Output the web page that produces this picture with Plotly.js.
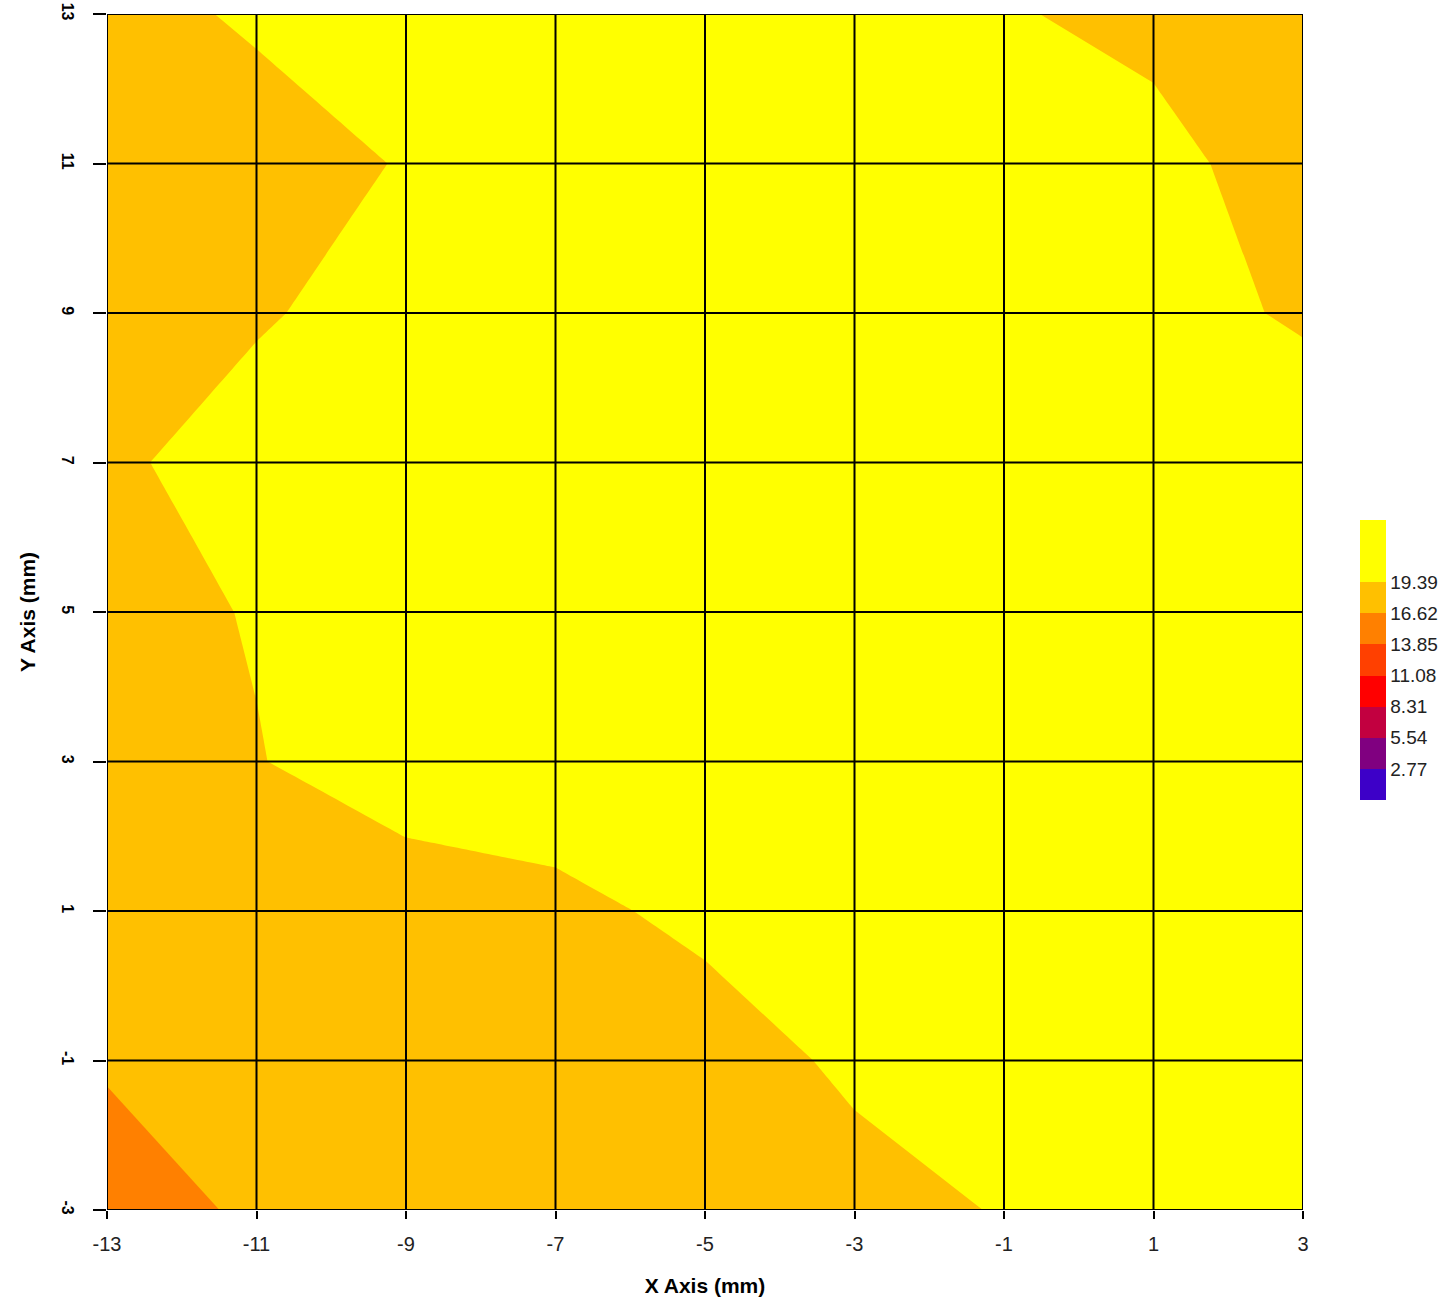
<!DOCTYPE html>
<html>
<head>
<meta charset="utf-8">
<script src="https://cdn.plot.ly/plotly-3.0.1.min.js"></script>
<style>
  html, body { margin: 0; padding: 0; background: #fff; }
  #chart { width: 1441px; height: 1306px; }
</style>
</head>
<body>
<div id="chart"></div>
<script>
// ---- data ----
var xValues = [-13, -11, -9, -7, -5, -3, -1, 1, 3];
var yValues = [-3, -1, 1, 3, 5, 7, 9, 11, 13];

// one row per y value (bottom to top), one column per x value
var zRowYm3 = [15.80, 16.89, 17.30, 17.50, 17.90, 18.54, 19.53, 20.40, 20.90];
var zRowYm1 = [16.79, 17.40, 17.60, 17.90, 18.29, 19.81, 20.60, 21.00, 21.20];
var zRowY1  = [17.60, 17.80, 18.32, 18.80, 19.93, 20.70, 21.10, 21.30, 21.40];
var zRowY3  = [18.00, 19.30, 20.50, 20.83, 21.20, 21.40, 21.50, 21.60, 21.50];
var zRowY5  = [18.65, 19.52, 20.90, 21.30, 21.50, 21.60, 21.70, 21.60, 21.40];
var zRowY7  = [18.54, 21.48, 21.30, 21.50, 21.70, 21.80, 21.70, 21.50, 21.36];
var zRowY9  = [17.60, 18.90, 21.35, 21.40, 21.60, 21.70, 21.50, 20.53, 19.00];
var zRowY11 = [17.50, 17.40, 19.67, 20.90, 21.30, 21.20, 20.80, 20.43, 17.69];
var zRowY13 = [17.82, 20.00, 20.60, 21.00, 21.10, 20.90, 19.67, 18.50, 17.80];

var levelStep = 2.77;
var levelTop = 19.39;
var colorbarMax = 24.93;
var levelTicks = [2.77, 5.54, 8.31, 11.08, 13.85, 16.62, 19.39];
var levelTickText = ['2.77', '5.54', '8.31', '11.08', '13.85', '16.62', '19.39'];
var bandColors = ['#3D00C8', '#800080', '#C20040', '#FF0000', '#FF4000', '#FF8000', '#FFC000', '#FFFF00'];

var xTickVals = [-13, -11, -9, -7, -5, -3, -1, 1, 3];
var yTickVals = [-3, -1, 1, 3, 5, 7, 9, 11, 13];

// ---- build ----
var zMatrix = [zRowYm3, zRowYm1, zRowY1, zRowY3, zRowY5, zRowY7, zRowY9, zRowY11, zRowY13];
var nBands = bandColors.length - 1;
var colorscale = [[0, bandColors[0]]];
for (var k = 0; k < nBands; k++) colorscale.push([(k + 0.5) / nBands, bandColors[k]]);
colorscale.push([1, bandColors[nBands]]);

var sans = '"Liberation Sans", Arial, sans-serif';

var trace = {
  type: 'contour',
  x: xValues,
  y: yValues,
  z: zMatrix,
  zmin: 0,
  zmax: colorbarMax,
  autocontour: false,
  contours: { start: 0, end: levelTop, size: levelStep, coloring: 'fill', showlines: false },
  line: { width: 0, smoothing: 0 },
  colorscale: colorscale,
  showscale: true,
  colorbar: {
    x: 1253 / 1196, xanchor: 'left', xpad: 0,
    y: 0.4599, yanchor: 'middle', ypad: 0,
    len: 280 / 1196, lenmode: 'fraction',
    thickness: 26, thicknessmode: 'pixels',
    outlinewidth: 0,
    ticks: '',
    ticklabelstandoff: 5,
    tickvals: levelTicks,
    ticktext: levelTickText,
    tickfont: { family: sans, size: 19, color: '#222' }
  },
  hoverinfo: 'skip'
};

var shapes = [];
xTickVals.forEach(function (v) {
  shapes.push({ type: 'line', xref: 'x', yref: 'paper', x0: v, x1: v, y0: 0, y1: 1,
    layer: 'above', line: { color: '#000', width: 2 } });
});
yTickVals.forEach(function (v) {
  shapes.push({ type: 'line', xref: 'paper', yref: 'y', x0: 0, x1: 1, y0: v, y1: v,
    layer: 'above', line: { color: '#000', width: 2 } });
});

var layout = {
  width: 1441,
  height: 1306,
  margin: { l: 107, r: 138, t: 14, b: 96, pad: 0, autoexpand: false },
  paper_bgcolor: '#fff',
  plot_bgcolor: '#fff',
  showlegend: false,
  xaxis: {
    range: [-13, 3],
    tickvals: xTickVals,
    ticktext: xTickVals.map(String),
    showgrid: false, zeroline: false, showline: false,
    ticks: 'outside', ticklen: 8, tickwidth: 2, tickcolor: '#000',
    ticklabelstandoff: 8,
    tickfont: { family: sans, size: 20, color: '#222' },
    title: { text: 'X Axis (mm)', font: { family: sans, size: 21, color: '#000', weight: 'bold' }, standoff: 24 }
  },
  yaxis: {
    range: [-3, 13],
    tickvals: yTickVals,
    ticktext: yTickVals.map(String),
    tickangle: 90,
    showgrid: false, zeroline: false, showline: false,
    ticks: 'outside', ticklen: 13, tickwidth: 2, tickcolor: '#000',
    ticklabelstandoff: 12,
    tickfont: { family: sans, size: 16, color: '#000', weight: 'bold' },
    title: { text: 'Y Axis (mm)', font: { family: sans, size: 21, color: '#000', weight: 'bold' }, standoff: 17 }
  },
  shapes: shapes
};

Plotly.newPlot('chart', [trace], layout, { displayModeBar: false, staticPlot: true });
</script>
</body>
</html>
